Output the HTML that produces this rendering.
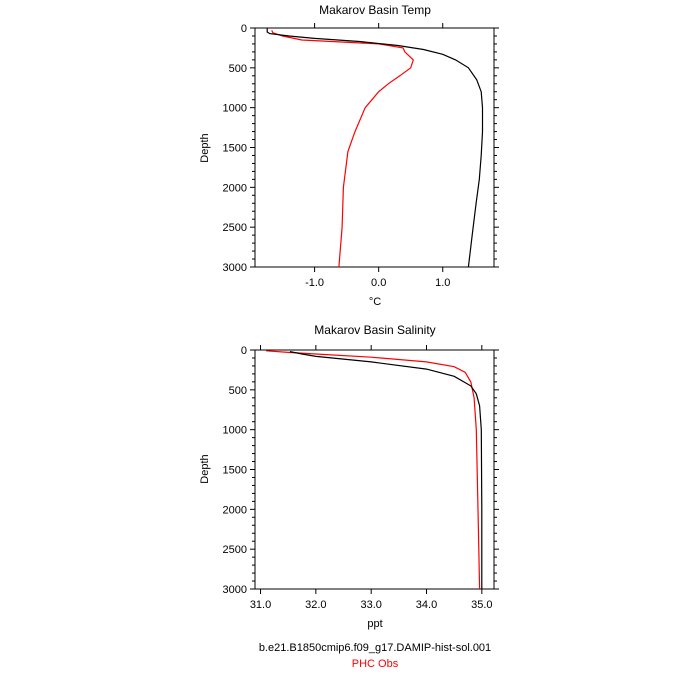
<!DOCTYPE html>
<html><head><meta charset="utf-8"><style>
body{margin:0;background:#fff;}
svg{display:block;font-family:"Liberation Sans",Arial,sans-serif;}
</style></head><body>
<svg id="chart" width="700" height="700" viewBox="0 0 700 700">
<text x="375" y="14" text-anchor="middle" font-size="12">Makarov Basin Temp</text>
<text x="375" y="334" text-anchor="middle" font-size="12">Makarov Basin Salinity</text>
<text x="375" y="305" text-anchor="middle" font-size="11">°C</text>
<text x="375" y="627" text-anchor="middle" font-size="11">ppt</text>
<text x="208" y="148" text-anchor="middle" font-size="11" transform="rotate(-90 208 148)">Depth</text>
<text x="208" y="469" text-anchor="middle" font-size="11" transform="rotate(-90 208 469)">Depth</text>
<text x="375" y="651" text-anchor="middle" font-size="11">b.e21.B1850cmip6.f09_g17.DAMIP-hist-sol.001</text>
<text x="375" y="667" text-anchor="middle" font-size="11" fill="#ff0000">PHC Obs</text>
</svg>
<script>
// Temperature panel data
const tempDepthModel=[0,50,70,100,130,170,220,270,330,400,500,650,800,1000,1300,1600,1900,2200,2600,3000];
const tempModel=[-1.74,-1.74,-1.7,-1.4,-1.0,-0.3,0.3,0.7,1.0,1.2,1.4,1.53,1.6,1.62,1.62,1.6,1.57,1.52,1.46,1.40];
const tempDepthObs=[30,60,100,150,200,250,300,400,500,600,700,800,1000,1300,1550,2000,2500,3000];
const tempObs=[-1.67,-1.65,-1.5,-1.2,0.0,0.38,0.41,0.54,0.5,0.33,0.15,0.0,-0.21,-0.37,-0.48,-0.55,-0.57,-0.62];
const tempTicks=[-1.0,0.0,1.0];
const tempTickLabels=["-1.0","0.0","1.0"];
// Salinity panel data
const salDepthModel=[20,50,80,150,240,330,450,550,700,1000,2000,3000];
const salModel=[31.53,31.75,32.0,33.0,34.0,34.5,34.8,34.9,34.96,34.99,35.0,35.0];
const salDepthObs=[10,30,50,90,150,210,280,400,600,1000,2000,3000];
const salObs=[31.1,31.5,32.0,33.0,34.0,34.5,34.7,34.8,34.86,34.9,34.93,34.96];
const salTicks=[31,32,33,34,35];
const salTickLabels=["31.0","32.0","33.0","34.0","35.0"];
const depthTicks=[0,500,1000,1500,2000,2500,3000];
const depthTickLabels=["0","500","1000","1500","2000","2500","3000"];

const NS="http://www.w3.org/2000/svg";
const svg=document.getElementById('chart');
function mk(t,a){const e=document.createElementNS(NS,t);for(const k in a)e.setAttribute(k,a[k]);svg.appendChild(e);return e;}

function panel(p){
  const L=255,R=494,T=p.top,B=p.top+239;
  const xs=v=>L+(v-p.xmin)/(p.xmax-p.xmin)*(R-L);
  const ys=d=>T+d/3000*(B-T);
  const fr=mk('rect',{x:L,y:T,width:R-L,height:B-T,fill:'none',stroke:'#000','stroke-width':1});
  
  
  for(let d=0;d<=3000;d+=100){
    const maj=d%500===0;const len=maj?5:3;
    const t1=mk('line',{x1:L-len,x2:L,y1:ys(d),y2:ys(d),stroke:'#000','stroke-width':1});
    
    
    const t2=mk('line',{x1:R,x2:R+len,y1:ys(d),y2:ys(d),stroke:'#000','stroke-width':1});
    
    
  }
  depthTicks.forEach((d,i)=>{
    const tx=mk('text',{x:L-8,y:ys(d)+4,'text-anchor':'end','font-size':11});
    tx.textContent=depthTickLabels[i];
    
    
  });
  p.xticks.forEach((v,i)=>{
    const a=mk('line',{x1:xs(v),x2:xs(v),y1:B,y2:B+5,stroke:'#000','stroke-width':1});
    
    
    const b=mk('line',{x1:xs(v),x2:xs(v),y1:T-5,y2:T,stroke:'#000','stroke-width':1});
    
    
    const tx=mk('text',{x:xs(v),y:B+19,'text-anchor':'middle','font-size':11});
    tx.textContent=p.xlabels[i];
    
    
  });
  p.series.forEach(s=>{
    const pts=s.v.map((v,i)=>xs(v).toFixed(1)+','+ys(s.d[i]).toFixed(1)).join(' ');
    const pl=mk('polyline',{points:pts,fill:'none',stroke:s.c,'stroke-width':1.2});
    
    
  });
}
panel({name:'temp',top:28,xmin:-1.93,xmax:1.80,xticks:tempTicks,xlabels:tempTickLabels,
  series:[{v:tempObs,d:tempDepthObs,c:'#ff0000',n:'temp-obs-line'},{v:tempModel,d:tempDepthModel,c:'#000',n:'temp-model-line'}]});
panel({name:'salinity',top:350,xmin:30.9,xmax:35.22,xticks:salTicks,xlabels:salTickLabels,
  series:[{v:salObs,d:salDepthObs,c:'#ff0000',n:'salinity-obs-line'},{v:salModel,d:salDepthModel,c:'#000',n:'salinity-model-line'}]});
</script>
</body></html>
